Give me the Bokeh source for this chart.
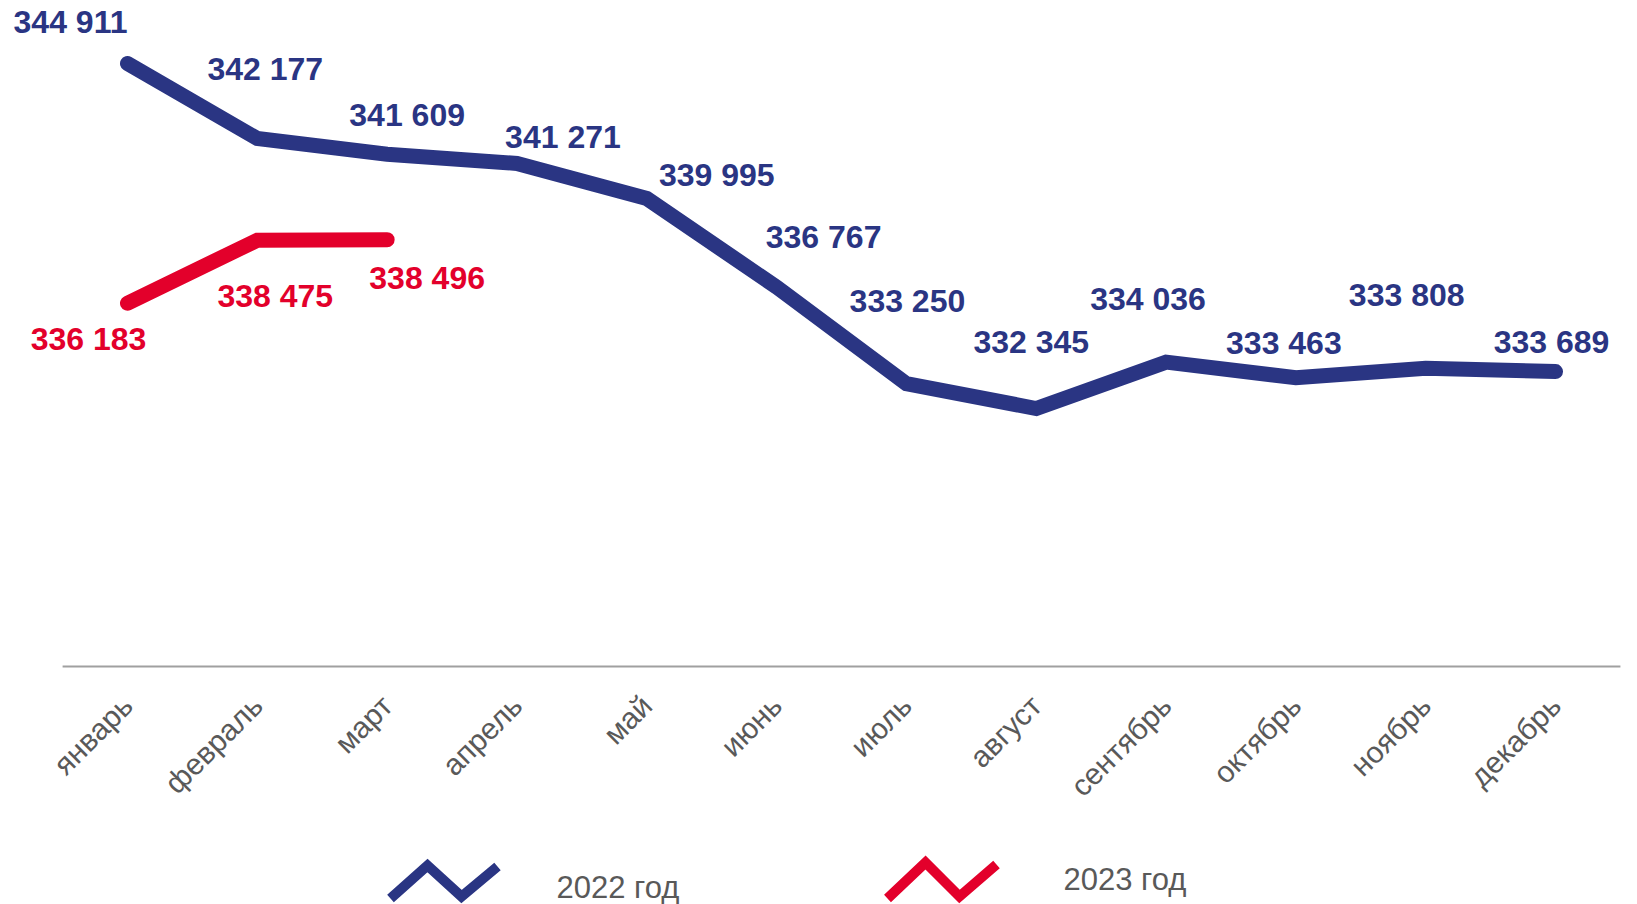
import math
from bokeh.plotting import figure
from bokeh.models import Range1d, FixedTicker, ColumnDataSource
from bokeh.layouts import column
from bokeh.core.properties import value
from bokeh.embed import file_html
from bokeh.resources import INLINE

months = ["январь", "февраль", "март", "апрель", "май", "июнь", "июль",
          "август", "сентябрь", "октябрь", "ноябрь", "декабрь"]
values_2022 = [344911, 342177, 341609, 341271, 339995, 336767, 333250,
               332345, 334036, 333463, 333808, 333689]
values_2023 = [336183, 338475, 338496]
series_names = ["2022 год", "2023 год"]

# label placement (screen px, relative to the point; positive dy = up)
dx_2022 = [-57, 8, 20, 46, 70, 47, 1, -5, -18, -12, -19, -4]
dy_2022 = [42, 70, 39, 26, 23, 50, 83, 67, 63, 35, 73, 30]
dx_2023 = [-39, 18, 40]
dy_2023 = [-36, -56, -38]

NAVY = "#2A3583"
RED = "#E3002B"
GRAY = "#595959"
FONT = "Liberation Sans"

def fmt(v):
    return f"{v:,}".replace(",", " ")

W = 1637
step = 129.82
x0px = 127
frame_h = 670
y_lo, y_hi = 322802, 347206
axis_base = 322948

p = figure(frame_width=W, frame_height=frame_h, output_backend="svg",
           toolbar_location=None, y_axis_location=None,
           x_range=Range1d(-x0px / step, (W - x0px) / step),
           y_range=Range1d(y_lo, y_hi),
           min_border_left=0, min_border_right=0, min_border_top=0,
           min_border_bottom=170)
p.outline_line_color = None
p.xgrid.visible = False
p.ygrid.visible = False
p.background_fill_color = "white"
p.border_fill_color = "white"

xs22 = list(range(len(values_2022)))
xs23 = list(range(len(values_2023)))

# baseline axis line
p.segment(x0=[-0.5], y0=[axis_base], x1=[len(months) - 0.5], y1=[axis_base],
          line_color="#A0A0A0", line_width=2)

p.line(xs22, values_2022, line_color=NAVY, line_width=15,
       line_cap="round", line_join="miter")
p.line(xs23, values_2023, line_color=RED, line_width=15,
       line_cap="round", line_join="miter")

src22 = ColumnDataSource(dict(x=xs22, y=values_2022,
                              t=[fmt(v) for v in values_2022],
                              dx=dx_2022, dy=[-d for d in dy_2022]))
src23 = ColumnDataSource(dict(x=xs23, y=values_2023,
                              t=[fmt(v) for v in values_2023],
                              dx=dx_2023, dy=[-d for d in dy_2023]))
for src, col in ((src22, NAVY), (src23, RED)):
    p.text(x="x", y="y", text="t", source=src, x_offset="dx", y_offset="dy",
           text_align="center", text_baseline="middle",
           text_font=value(FONT), text_font_style="bold",
           text_font_size="32px", text_color=col)

ax = p.xaxis[0]
ax.ticker = FixedTicker(ticks=xs22)
ax.major_label_overrides = {i: m for i, m in enumerate(months)}
ax.major_label_orientation = math.pi / 4
ax.axis_line_color = None
ax.major_tick_line_color = None
ax.minor_tick_line_color = None
ax.major_label_text_font = FONT
ax.major_label_text_font_size = "30px"
ax.major_label_text_color = GRAY
ax.major_label_standoff = 24

# legend figure
leg_h = 904 - (frame_h + 170)
q = figure(frame_width=W, frame_height=leg_h, output_backend="svg",
           toolbar_location=None, x_axis_location=None, y_axis_location=None,
           x_range=Range1d(0, W), y_range=Range1d(904, 904 - leg_h),
           min_border=0)
q.outline_line_color = None
q.xgrid.visible = False
q.ygrid.visible = False

icon_x = [[390, 427, 461, 497], [887, 925, 959, 996]]
icon_y = [[898, 865, 896, 866], [898, 862, 896, 864]]
text_x = [556, 1063]
text_y = [887, 879]
for ix, iy, tx, ty, col, name in zip(icon_x, icon_y, text_x, text_y,
                                       (NAVY, RED), series_names):
    q.line(ix, iy, line_color=col, line_width=10, line_join="miter",
           line_cap="butt")
    q.text(x=[tx], y=[ty], text=[name], text_align="left",
           text_baseline="middle", text_font=value(FONT),
           text_font_size="31px", text_color=GRAY)

layout = column(p, q, spacing=0)
open("out.html", "w").write(file_html(layout, INLINE))
